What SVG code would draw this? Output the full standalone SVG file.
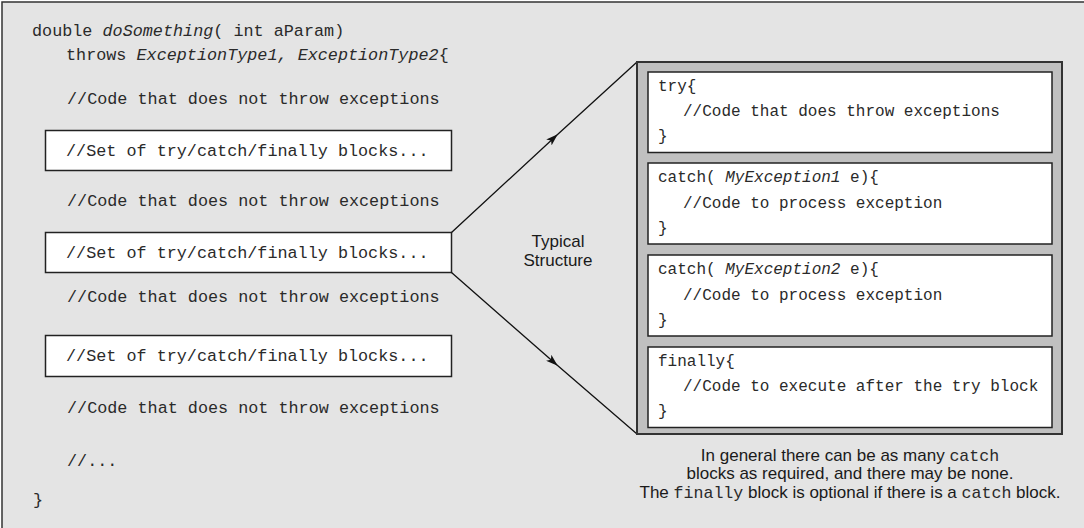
<svg xmlns="http://www.w3.org/2000/svg" width="1084" height="528" viewBox="0 0 1084 528">
<style>
.mono{font-family:"Liberation Mono","Courier New",monospace;fill:#2a2a2a;}
.l{font-size:16.8px;}
.r{font-size:16px;}
.c{font-size:16.6px;}
.sans{font-family:"Liberation Sans",Arial,sans-serif;fill:#1a1a1a;font-size:17px;}
.it{font-style:italic;}
.box{fill:#fff;stroke:#222;stroke-width:1.5;}
.conn{fill:none;stroke:#111;stroke-width:1.3;}
</style>
<defs>
<marker id="ah" viewBox="0 0 12 8" refX="11" refY="4" markerWidth="12" markerHeight="8" markerUnits="userSpaceOnUse" orient="auto">
<path d="M0,0 L12,4 L0,8 L3,4 Z" fill="#111"/>
</marker>
</defs>
<rect x="2" y="2" width="1100" height="540" fill="#e4e4e4" stroke="#333" stroke-width="1.5"/>
<g id="method">
<text class="mono l" x="32" y="36">double <tspan class="it">doSomething</tspan>( int aParam)</text>
<text class="mono l" x="66" y="60">throws <tspan class="it">ExceptionType1, ExceptionType2</tspan>{</text>
<text class="mono l" x="67" y="104">//Code that does not throw exceptions</text>
<text class="mono l" x="67" y="206">//Code that does not throw exceptions</text>
<text class="mono l" x="67" y="302">//Code that does not throw exceptions</text>
<text class="mono l" x="67" y="413">//Code that does not throw exceptions</text>
<text class="mono l" x="67" y="466">//...</text>
<text class="mono l" x="33" y="505">}</text>
</g>
<g id="set1">
<rect class="box" x="45.5" y="130.5" width="406" height="40"/>
<text class="mono l" x="66" y="156">//Set of try/catch/finally blocks...</text>
</g>
<g id="set2">
<rect class="box" x="45.5" y="232.5" width="406" height="40"/>
<text class="mono l" x="66" y="258">//Set of try/catch/finally blocks...</text>
</g>
<g id="set3">
<rect class="box" x="45.5" y="335.5" width="406" height="41"/>
<text class="mono l" x="66" y="361">//Set of try/catch/finally blocks...</text>
</g>
<g id="connectors">
<path class="conn" d="M451.5,232.5 L557,135 L637,62" marker-mid="url(#ah)"/>
<path class="conn" d="M451.5,272.5 L557,365 L637,434" marker-mid="url(#ah)"/>
</g>
<g id="label">
<text class="sans" x="558" y="247" text-anchor="middle">Typical</text>
<text class="sans" x="558" y="266" text-anchor="middle">Structure</text>
</g>
<g id="structure">
<rect x="637" y="62" width="425" height="372" fill="#c0c0c0" stroke="#333" stroke-width="2"/>
</g>
<g id="try">
<rect class="box" x="648" y="72" width="404" height="80.5"/>
<text class="mono r" x="658" y="91">try{</text>
<text class="mono r" x="683" y="116">//Code that does throw exceptions</text>
<text class="mono r" x="658" y="141">}</text>
</g>
<g id="catch1">
<rect class="box" x="648" y="163" width="404" height="81"/>
<text class="mono r" x="658" y="182">catch( <tspan class="it">MyException1</tspan> e){</text>
<text class="mono r" x="683" y="208">//Code to process exception</text>
<text class="mono r" x="658" y="233">}</text>
</g>
<g id="catch2">
<rect class="box" x="648" y="255" width="404" height="81"/>
<text class="mono r" x="658" y="274">catch( <tspan class="it">MyException2</tspan> e){</text>
<text class="mono r" x="683" y="300">//Code to process exception</text>
<text class="mono r" x="658" y="325">}</text>
</g>
<g id="finally">
<rect class="box" x="648" y="347" width="404" height="80.5"/>
<text class="mono r" x="658" y="366">finally{</text>
<text class="mono r" x="683" y="391">//Code to execute after the try block</text>
<text class="mono r" x="658" y="416">}</text>
</g>
<g id="caption">
<text class="sans" x="850" y="461" text-anchor="middle">In general there can be as many <tspan class="mono c">catch</tspan></text>
<text class="sans" x="850" y="479" text-anchor="middle">blocks as required, and there may be none.</text>
<text class="sans" x="850" y="498" text-anchor="middle">The <tspan class="mono c">finally</tspan> block is optional if there is a <tspan class="mono c">catch</tspan> block.</text>
</g>
</svg>
